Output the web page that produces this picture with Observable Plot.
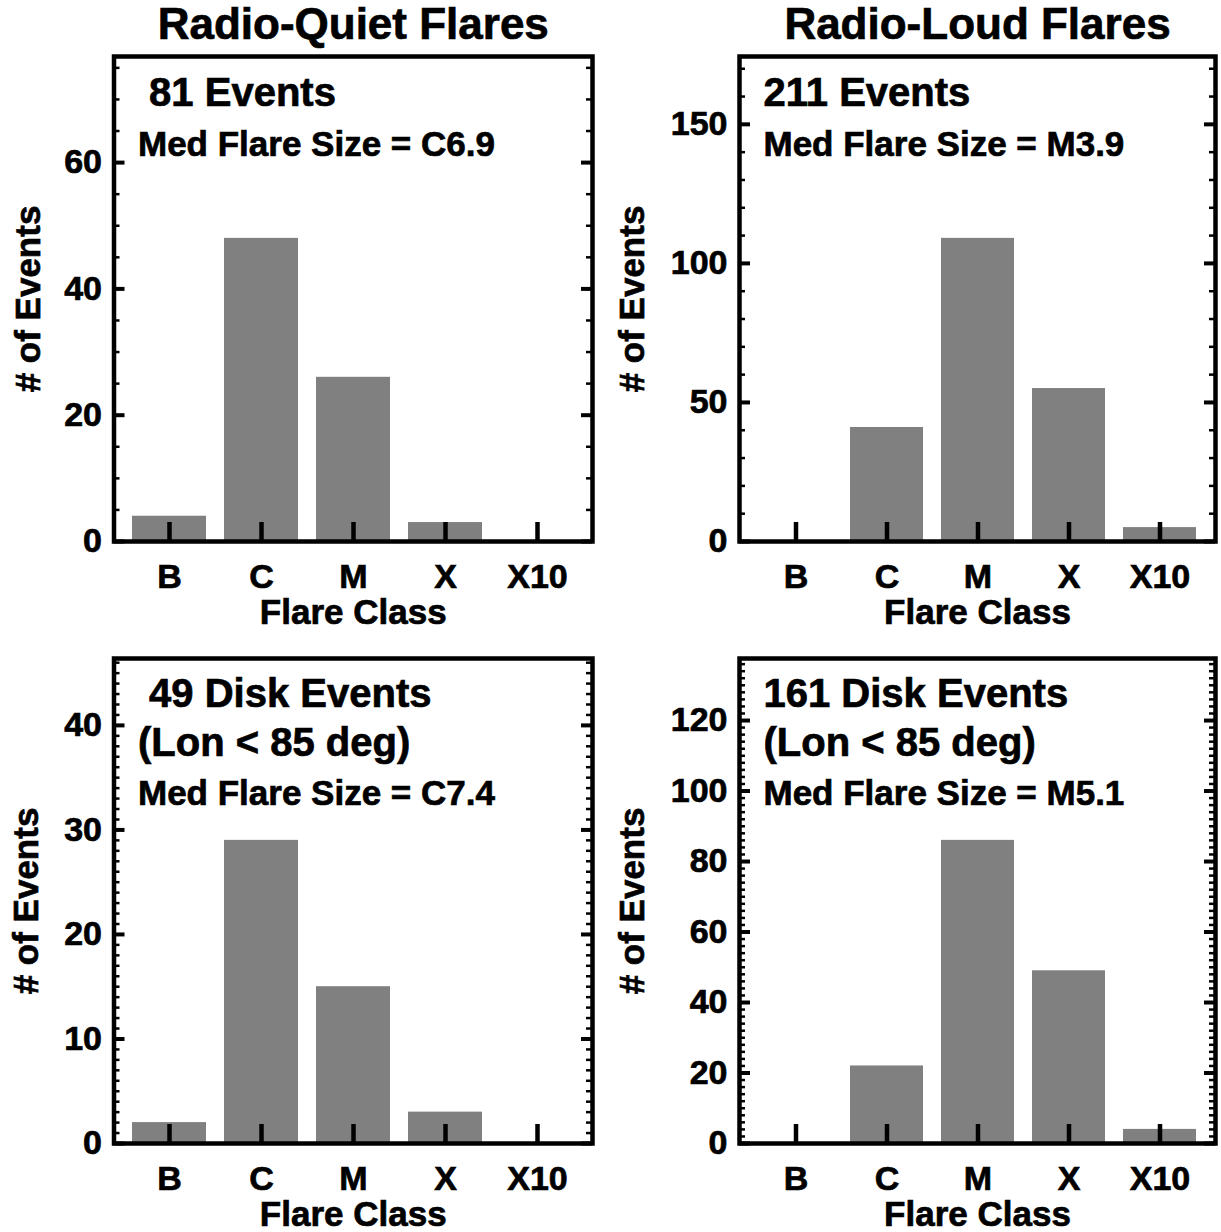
<!DOCTYPE html>
<html><head><meta charset="utf-8">
<script src="https://cdn.jsdelivr.net/npm/d3@7"></script>
<script src="https://cdn.jsdelivr.net/npm/@observablehq/plot@0.6"></script>
<style>
body{margin:0;background:#fff;}
#wrap{position:relative;width:1221px;height:1232px;overflow:hidden;background:#fff;}
#wrap svg{position:absolute;}
#wrap svg text{stroke:#000;stroke-width:0.7px;}
</style></head><body><div id="wrap"></div>
<script>
// ---- data ----
const classes = ["B", "C", "M", "X", "X10"];
const quietAll = [4, 48, 26, 3, 0];
const loudAll = [0, 41, 109, 55, 5];
const quietDisk = [2, 29, 15, 3, 0];
const loudDisk = [0, 22, 86, 49, 4];

const titles = ["Radio-Quiet Flares", "Radio-Loud Flares"];
const notes = [
  [" 81 Events", "Med Flare Size = C6.9"],
  ["211 Events", "Med Flare Size = M3.9"],
  [" 49 Disk Events", "(Lon < 85 deg)", "Med Flare Size = C7.4"],
  ["161 Disk Events", "(Lon < 85 deg)", "Med Flare Size = M5.1"]
];
const yTicks = [
  [0, 20, 40, 60],
  [0, 50, 100, 150],
  [0, 10, 20, 30, 40],
  [0, 20, 40, 60, 80, 100, 120]
];
const minorSteps = [5, 10, 1, 2];
const xLabel = "Flare Class";
const yLabel = "# of Events";

// ---- layout ----
const FONT = "'Liberation Sans', Arial, Helvetica, sans-serif";
const panels = [
  {values: quietAll, title: titles[0], left: 0,   top: 0,   width: 610, height: 632, ml: 113.5, mr: 18, mb: 91, ylabDx: -74.5},
  {values: loudAll,  title: titles[1], left: 610, top: 0,   width: 611, height: 632, ml: 129,   mr: 6,  mb: 91, ylabDx: -96},
  {values: quietDisk, title: null,     left: 0,   top: 602, width: 610, height: 630, ml: 113.5, mr: 18, mb: 89, ylabDx: -76},
  {values: loudDisk,  title: null,     left: 610, top: 602, width: 611, height: 630, ml: 129,   mr: 6,  mb: 89, ylabDx: -96}
];
const MT = 56;
const wrap = document.getElementById("wrap");

panels.forEach((p, k) => {
  const data = classes.map((c, i) => ({cls: c, n: p.values[i]}));
  const ymax = d3.max(p.values) * 1.6;
  const innerW = p.width - p.ml - p.mr;
  const innerH = p.height - MT - p.mb;
  const minor = d3.range(0, ymax + 1e-9, minorSteps[k]);
  const majors = yTicks[k];
  const lines = notes[k];
  const isDisk = lines.length === 3;
  const noteDy = isDisk ? [48, 97.5, 146.5] : [49, 99];
  const noteSize = isDisk ? [40, 40, 35] : [40, 35];

  const marks = [
    Plot.barY(data, {x: "cls", y: "n", fill: "#808080"}),
    // inward x ticks
    Plot.ruleX(classes, {x: d => d, insetTop: innerH - 19, strokeWidth: 4.5, stroke: "black"}),
    // minor y ticks (left, right)
    Plot.ruleY(minor, {y: d => d, insetRight: innerW - 6, strokeWidth: 2.5, stroke: "black"}),
    Plot.ruleY(minor, {y: d => d, insetLeft: innerW - 6, strokeWidth: 2.5, stroke: "black"}),
    // major y ticks (left, right)
    Plot.ruleY(majors, {y: d => d, insetRight: innerW - 11, strokeWidth: 4, stroke: "black"}),
    Plot.ruleY(majors, {y: d => d, insetLeft: innerW - 11, strokeWidth: 4, stroke: "black"}),
    Plot.frame({strokeWidth: 4.5, stroke: "black"}),
    Plot.axisY({ticks: majors, anchor: "left", tickSize: 0, tickPadding: 12, label: null, fontSize: 34, fontWeight: "bold"}),
    Plot.axisX({anchor: "bottom", tickSize: 0, tickPadding: 22, label: null, fontSize: 34, fontWeight: "bold"}),
    Plot.text([xLabel], {frameAnchor: "bottom", dy: 82.5, lineAnchor: "bottom", textAnchor: "middle", fontSize: 35, fontWeight: "bold"}),
    Plot.text([yLabel], {frameAnchor: "left", dx: p.ylabDx, rotate: -90, lineAnchor: "bottom", textAnchor: "middle", fontSize: 35, fontWeight: "bold"})
  ];
  lines.forEach((t, j) => {
    marks.push(Plot.text([t], {frameAnchor: "top-left", dx: 24, dy: noteDy[j], lineAnchor: "bottom", textAnchor: "start", fontSize: noteSize[j], fontWeight: "bold"}));
  });
  if (p.title) {
    marks.push(Plot.text([p.title], {frameAnchor: "top", dy: -18, lineAnchor: "bottom", textAnchor: "middle", fontSize: 44, fontWeight: "bold"}));
  }

  const svg = Plot.plot({
    width: p.width,
    height: p.height,
    marginLeft: p.ml,
    marginRight: p.mr,
    marginTop: MT,
    marginBottom: p.mb,
    x: {type: "band", domain: classes, paddingInner: 0.2, paddingOuter: 0.2},
    y: {domain: [0, ymax]},
    style: {background: "transparent", fontFamily: FONT, fontWeight: "bold", fontSize: "34px", color: "black", overflow: "visible"},
    marks
  });
  svg.style.left = p.left + "px";
  svg.style.top = p.top + "px";
  svg.style.maxWidth = "none";
  wrap.appendChild(svg);
});
</script>
</body></html>
